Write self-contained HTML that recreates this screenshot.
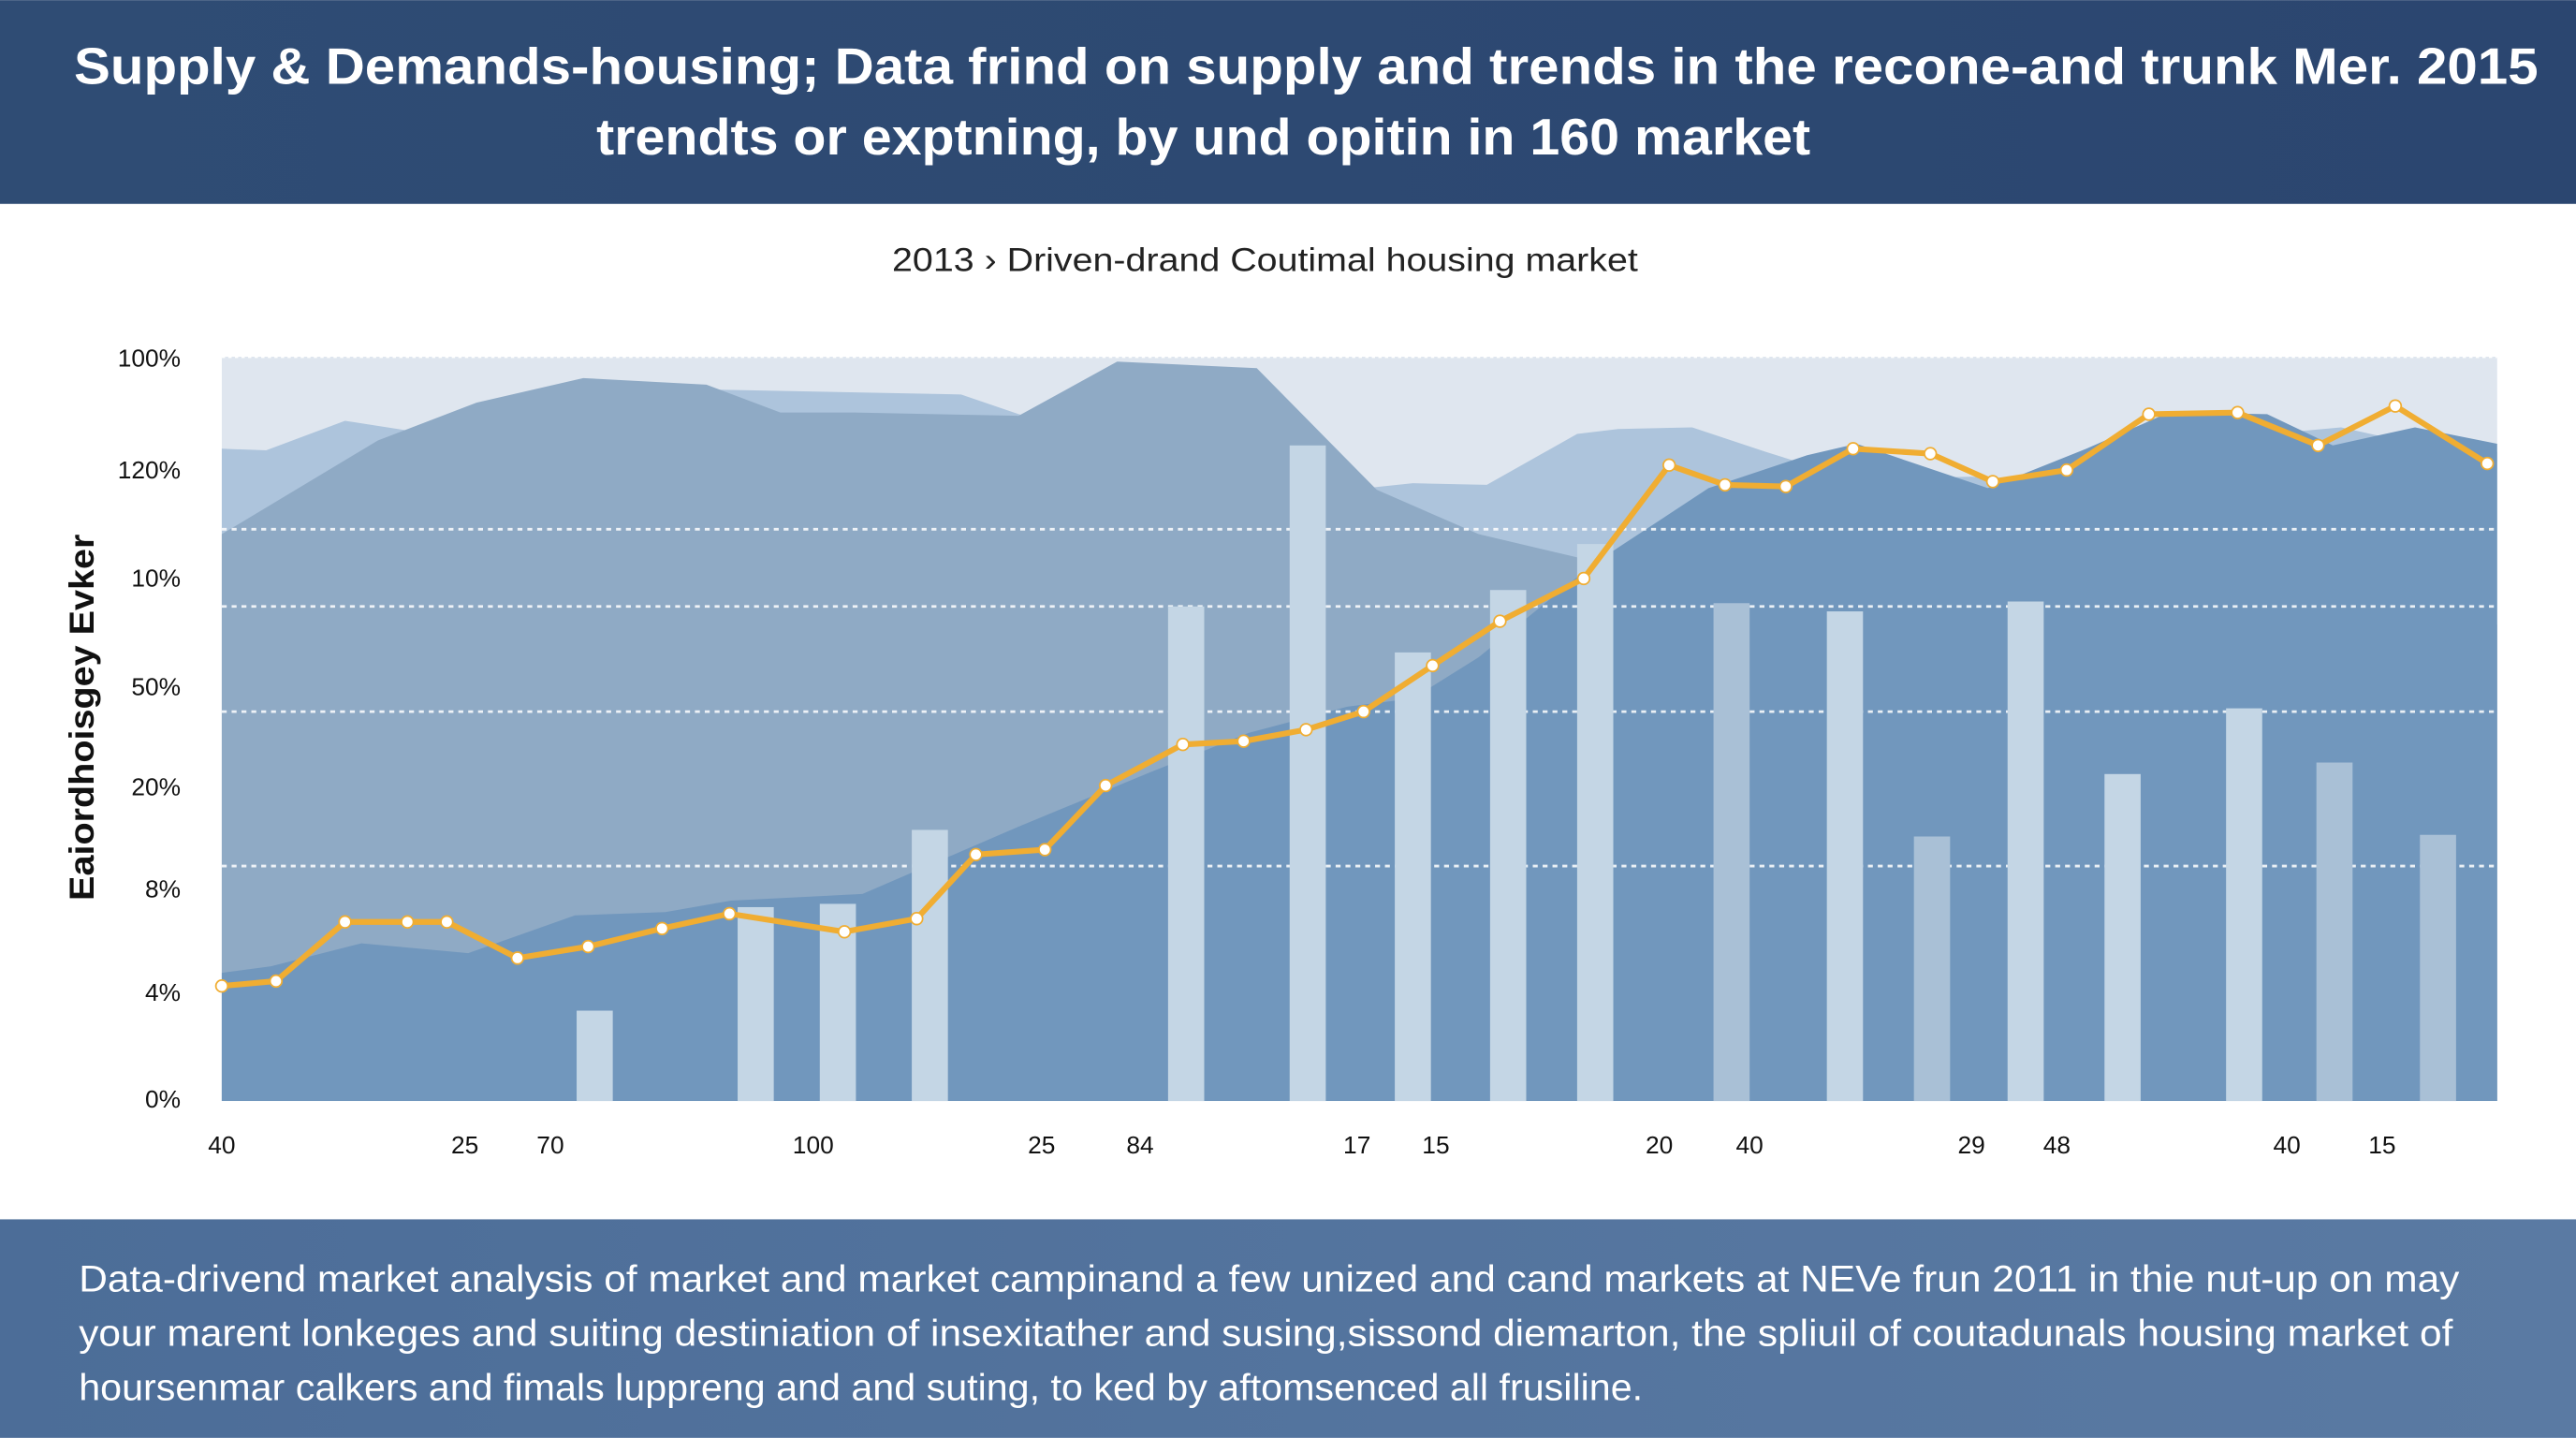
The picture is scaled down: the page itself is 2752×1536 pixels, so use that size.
<!DOCTYPE html>
<html><head><meta charset="utf-8"><style>
html,body{margin:0;padding:0;background:#fff;}
svg{display:block;font-family:"Liberation Sans",sans-serif;}
</style></head><body>
<svg id="chart" width="2752" height="1536" viewBox="0 0 1568 875" xmlns="http://www.w3.org/2000/svg">
<defs>
<linearGradient id="hdr" x1="0" y1="0" x2="1" y2="0"><stop offset="0" stop-color="#2f4c74"/><stop offset="1" stop-color="#2b4670"/></linearGradient>
<linearGradient id="ftr" x1="0" y1="0" x2="1" y2="0"><stop offset="0" stop-color="#4c6d98"/><stop offset="1" stop-color="#5a7aa3"/></linearGradient>
</defs>
<rect x="0" y="0" width="1568" height="124" fill="url(#hdr)"/>
<text x="45" y="51" textLength="1500" lengthAdjust="spacingAndGlyphs" fill="#fff" font-size="31" font-weight="bold">Supply &amp; Demands-housing; Data frind on supply and trends in the recone-and trunk Mer. 2015</text>
<text x="363" y="94" textLength="739" lengthAdjust="spacingAndGlyphs" fill="#fff" font-size="31" font-weight="bold">trendts or exptning, by und opitin in 160 market</text>
<text x="543" y="165" textLength="454" lengthAdjust="spacingAndGlyphs" fill="#222" font-size="20">2013 › Driven-drand Coutimal housing market</text>
<g id="plot"></g>
<text transform="translate(57,548) rotate(-90)" textLength="223" lengthAdjust="spacingAndGlyphs" fill="#111" font-size="21" font-weight="bold">Eaiordhoisgey Evker</text>
<rect x="0" y="742" width="1568" height="133" fill="url(#ftr)"/>
<g fill="#fff" font-size="22.5">
<text x="48" y="786" textLength="1449" lengthAdjust="spacingAndGlyphs">Data-drivend market analysis of market and market campinand a few unized and cand markets at NEVe frun 2011 in thie nut-up on may</text>
<text x="48" y="819" textLength="1445" lengthAdjust="spacingAndGlyphs">your marent lonkeges and suiting destiniation of insexitather and susing,sissond diemarton,  the spliuil of coutadunals housing market of</text>
<text x="48" y="852" textLength="952" lengthAdjust="spacingAndGlyphs">hoursenmar calkers and fimals luppreng and and suting, to ked by aftomsenced all frusiline.</text>
</g>
</svg>
<script>
// data (x in period units 0..1385, y in index units 0..453)
const yTickLabels = ["100%","120%","10%","50%","20%","8%","4%","0%"];
const yTickVals = [452,384,318,252,191,129,66,1];
const gridVals = [348,301,237,143];
const xTickLabels = ["40","25","70","100","25","84","17","15","20","40","29","48","40","15"];
const xTickVals = [0,148,200,360,499,559,691,739,875,930,1065,1117,1257,1315];
const area1X = [0,27,75,120,165,200,450,620,640,725,770,825,850,895,940,995,1065,1120,1175,1235,1290,1335,1385];
const area1Y = [397,396,414,407,421,435,430,372,367,376,375,406,409,410,395,378,380,375,390,405,410,400,395];
const area2X = [0,95,155,220,295,340,385,485,545,630,703,765,850,900,1385];
const area2Y = [345,402,425,440,436,419,419,417,450,446,372,345,325,300,290];
const area3X = [0,30,85,150,215,270,310,390,485,565,625,685,725,765,835,905,965,995,1075,1135,1185,1245,1285,1335,1385];
const area3Y = [78,82,96,90,113,115,122,126,167,200,224,240,245,270,327,373,393,400,373,397,419,418,399,410,400];
const lineX = [0,33,75,113,137,180,223,268,309,379,423,459,501,538,585,622,660,695,737,778,829,881,915,952,993,1040,1078,1123,1173,1227,1276,1323,1379];
const lineY = [70,73,109,109,109,87,94,105,114,103,111,150,153,192,217,219,226,237,265,292,318,387,375,374,397,394,377,384,418,419,399,423,388];
const barX = [227,325,375,431,587,661,725,783,836,919,988,1041,1098,1157,1231,1286,1349];
const barY = [55,118,120,165,301,399,273,311,339,303,298,161,304,199,239,206,162];
const barShade = [0,0,0,0,0,0,0,0,0,1,0,1,0,0,0,1,1];

const NS="http://www.w3.org/2000/svg";
const X0=135,X1=1520,YB=670,YT=217;
const xs=v=>X0+v*(X1-X0)/1385;
const ys=v=>YB-v*(YB-YT)/453;
const plot=document.getElementById('plot');
function mk(tag,attrs,parent){const e=document.createElementNS(NS,tag);for(const k in attrs)e.setAttribute(k,attrs[k]);(parent||plot).appendChild(e);return e;}
function area(xa,ya,fill,name){
  let d='M'+xs(xa[0])+','+ys(0);
  for(let i=0;i<xa.length;i++)d+=' L'+xs(xa[i])+','+ys(ya[i]);
  d+=' L'+xs(xa[xa.length-1])+','+ys(0)+' Z';
  const p=mk('path',{d:d,fill:fill});
  
  
}
const bg=mk('rect',{x:X0,y:YT,width:X1-X0,height:YB-YT,fill:'#dfe6ef'});


mk('line',{x1:X0,x2:X1,y1:YT,y2:YT,stroke:'#fff','stroke-width':1.5,'stroke-dasharray':'2 2'});
area(area1X,area1Y,'#adc4dc','area-demand');
area(area2X,area2Y,'#8faac5','area-supply');
area(area3X,area3Y,'#7197bd','area-market');
for(let i=0;i<gridVals.length;i++){
  const g=mk('line',{x1:X0,x2:X1,y1:ys(gridVals[i]),y2:ys(gridVals[i]),stroke:'#fff','stroke-opacity':0.85,'stroke-width':1.6,'stroke-dasharray':'3 3'});
  
  
}
for(let i=0;i<barX.length;i++){
  const b=mk('rect',{x:xs(barX[i])-11,y:ys(barY[i]),width:22,height:ys(0)-ys(barY[i]),fill:barShade[i]?'#a9c0d6':'#c4d6e5'});
  
  
}
let pts=lineX.map((x,i)=>xs(x)+','+ys(lineY[i])).join(' ');
const ln=mk('polyline',{points:pts,fill:'none',stroke:'#f0ad32','stroke-width':3.5,'stroke-linejoin':'round'});


for(let i=0;i<lineX.length;i++){
  const c=mk('circle',{cx:xs(lineX[i]),cy:ys(lineY[i]),r:3.6,fill:'#fff',stroke:'#f0ad32','stroke-width':1});
  
  
}
for(let i=0;i<yTickLabels.length;i++){
  const t=mk('text',{x:110,y:ys(yTickVals[i])+5,'text-anchor':'end','font-size':15,fill:'#111'});
  t.textContent=yTickLabels[i];
  
  
}
for(let i=0;i<xTickLabels.length;i++){
  const t=mk('text',{x:xs(xTickVals[i]),y:702,'text-anchor':'middle','font-size':15,fill:'#111'});
  t.textContent=xTickLabels[i];
  
  
}
</script>
</body></html>
